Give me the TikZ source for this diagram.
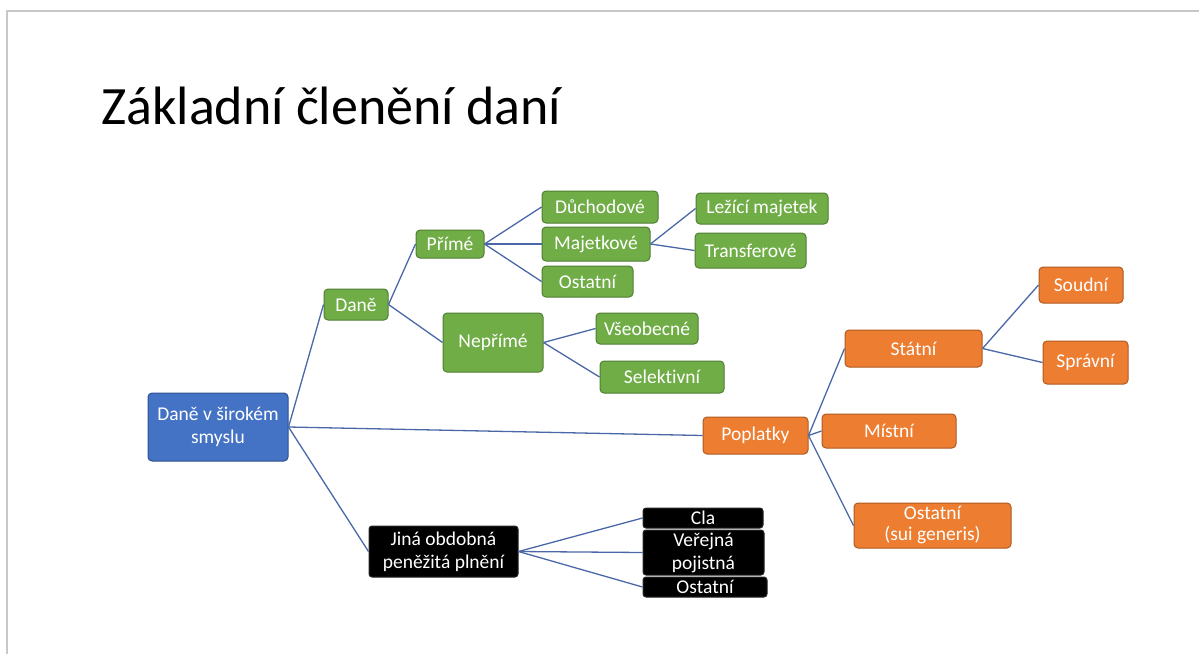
\documentclass[tikz,border=0pt]{standalone}
\usepackage{fontspec}
\setmainfont{Carlito}[Ligatures=NoCommon]
\definecolor{cgreen}{HTML}{70AD47}
\definecolor{cgreenD}{HTML}{507E32}
\definecolor{corange}{HTML}{ED7D31}
\definecolor{corangeD}{HTML}{AE5A21}
\definecolor{cblue}{HTML}{4472C4}
\definecolor{cblueD}{HTML}{2F528F}
\definecolor{cline}{HTML}{4A68A8}
\definecolor{framegray}{HTML}{C8C8C8}
\begin{document}
\begin{tikzpicture}[x=1pt,y=-1pt,
  box/.style={rounded corners=4pt, line width=1pt, text=white, inner sep=0pt, align=center,
    font=\fontsize{19.5}{23}\selectfont},
  gbox/.style={box, fill=cgreen, draw=cgreenD},
  obox/.style={box, fill=corange, draw=corangeD},
  bbox/.style={box, fill=cblue, draw=cblueD},
  kbox/.style={box, fill=black, draw=black!85, rounded corners=3pt},
  conn/.style={draw=cline, line width=1.3pt}]
\useasboundingbox (0,0) rectangle (1199,654);
\fill[white] (0,0) rectangle (1199,654);
\draw[framegray, line width=2pt] (7,654) -- (7,11) -- (1199,11);

\node[anchor=base west, inner sep=0pt, font=\fontsize{54}{60}\selectfont] (title) at (101,124) {Základní členění daní};

% root
\node[bbox, minimum width=140pt, minimum height=68pt] (root) at (218,427) {Daně v širokém\\smyslu};

% green
\node[gbox, minimum width=64pt, minimum height=31pt] (dane) at (356,304.5) {Daně};
\node[gbox, minimum width=68pt, minimum height=28pt] (prime) at (450,244) {Přímé};
\node[gbox, minimum width=100pt, minimum height=59pt] (neprime) at (493,342.5) {Nepřímé};
\node[gbox, minimum width=116pt, minimum height=32pt] (duch) at (600,207) {Důchodové};
\node[gbox, minimum width=108pt, minimum height=34pt] (majet) at (596,244) {Majetkové};
\node[gbox, minimum width=91pt, minimum height=31pt] (ostA) at (587.5,281.5) {Ostatní};
\node[gbox, minimum width=132pt, minimum height=31pt] (lezici) at (762,208.5) {Ležící majetek};
\node[gbox, minimum width=111pt, minimum height=35pt] (transf) at (750.5,250.5) {Transferové};
\node[gbox, minimum width=102pt, minimum height=31pt] (vseob) at (647,328.5) {Všeobecné};
\node[gbox, minimum width=124pt, minimum height=32pt] (selekt) at (662,377) {Selektivní};

% orange
\node[obox, minimum width=105pt, minimum height=37pt] (poplatky) at (755.5,435.5) {Poplatky};
\node[obox, minimum width=137pt, minimum height=37pt] (statni) at (913.5,348.5) {Státní};
\node[obox, minimum width=134pt, minimum height=34pt] (mistni) at (889,431) {Místní};
\node[obox, minimum width=157pt, minimum height=45pt, font=\fontsize{19.5}{21}\selectfont] (ostB) at (932.5,525.5) {Ostatní\\(sui generis)};
\node[obox, minimum width=84pt, minimum height=36pt] (soudni) at (1081,285) {Soudní};
\node[obox, minimum width=85pt, minimum height=43pt] (spravni) at (1085.5,362.5) {Správní};

% black
\node[kbox, minimum width=149pt, minimum height=51pt] (jina) at (443.5,551.5) {Jiná obdobná\\peněžitá plnění};
\node[kbox, minimum width=120pt, minimum height=20pt] (cla) at (703,518) {Cla};
\node[kbox, minimum width=121pt, minimum height=45pt] (verejna) at (703.5,552.5) {Veřejná\\pojistná};
\node[kbox, minimum width=124pt, minimum height=20pt] (ostC) at (705,587) {Ostatní};

% connectors
\draw[conn] (root.east) -- (dane.west);
\draw[conn] (root.east) -- (poplatky.west);
\draw[conn] (root.east) -- (jina.west);
\draw[conn] (dane.east) -- (prime.west);
\draw[conn] (dane.east) -- (neprime.west);
\draw[conn] (prime.east) -- (duch.west);
\draw[conn] (prime.east) -- (majet.west);
\draw[conn] (prime.east) -- (ostA.west);
\draw[conn] (majet.east) -- (lezici.west);
\draw[conn] (majet.east) -- (transf.west);
\draw[conn] (neprime.east) -- (vseob.west);
\draw[conn] (neprime.east) -- (selekt.west);
\draw[conn] (poplatky.east) -- (statni.west);
\draw[conn] (poplatky.east) -- (mistni.west);
\draw[conn] (poplatky.east) -- (ostB.west);
\draw[conn] (statni.east) -- (soudni.west);
\draw[conn] (statni.east) -- (spravni.west);
\draw[conn] (jina.east) -- (cla.west);
\draw[conn] (jina.east) -- (verejna.west);
\draw[conn] (jina.east) -- (ostC.west);
\end{tikzpicture}
\end{document}
